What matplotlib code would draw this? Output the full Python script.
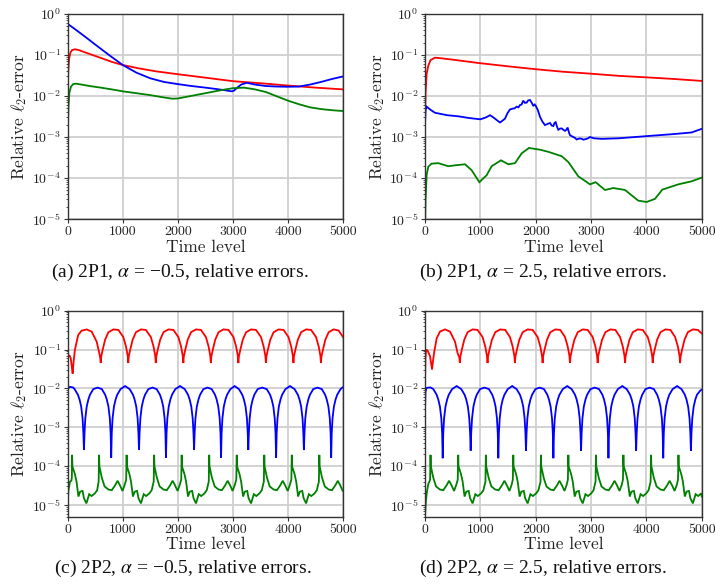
import matplotlib
matplotlib.use("Agg")
import matplotlib.pyplot as plt
from matplotlib.ticker import LogLocator, NullFormatter

# ---------------- data (time level, relative error) ----------------
A_RED = [(0, 0.009), (10, 0.04), (25, 0.08), (50, 0.115), (80, 0.132), (130, 0.138), (200, 0.132),
         (300, 0.118), (450, 0.1), (600, 0.085), (800, 0.068), (1000, 0.057), (1300, 0.047),
         (1600, 0.04), (2000, 0.034), (2500, 0.028), (3000, 0.023), (3500, 0.0205), (4000, 0.018),
         (4500, 0.016), (5000, 0.0145)]
A_BLUE = [(0, 0.55), (10, 0.56), (100, 0.46), (300, 0.29), (500, 0.18), (750, 0.10), (1000, 0.057),
          (1250, 0.037), (1500, 0.027), (1750, 0.022), (2000, 0.0195), (2250, 0.0175), (2500, 0.016),
          (2750, 0.0145), (2980, 0.013), (3020, 0.0135), (3080, 0.016), (3150, 0.019), (3250, 0.021),
          (3400, 0.019), (3600, 0.0175), (3800, 0.017), (4000, 0.0168), (4200, 0.017), (4400, 0.019),
          (4600, 0.022), (4800, 0.026), (5000, 0.030)]
A_GREEN = [(0, 5e-4), (5, 2e-3), (15, 6e-3), (30, 1.2e-2), (60, 1.7e-2), (100, 1.95e-2), (150, 2.0e-2),
           (250, 1.9e-2), (400, 1.75e-2), (600, 1.6e-2), (800, 1.45e-2), (1000, 1.3e-2), (1250, 1.17e-2),
           (1500, 1.05e-2), (1750, 9.2e-3), (1900, 8.6e-3), (2000, 8.7e-3), (2200, 9.8e-3), (2500, 1.17e-2),
           (2800, 1.4e-2), (3000, 1.55e-2), (3200, 1.6e-2), (3400, 1.45e-2), (3600, 1.25e-2), (3800, 9.8e-3),
           (4000, 7.7e-3), (4200, 6.3e-3), (4400, 5.3e-3), (4600, 4.8e-3), (4800, 4.5e-3), (5000, 4.3e-3)]

B_RED = [(0, 0.002), (10, 0.012), (30, 0.035), (60, 0.055), (100, 0.075), (180, 0.086), (300, 0.083),
         (500, 0.077), (1000, 0.063), (1500, 0.053), (2000, 0.045), (2500, 0.039), (3000, 0.035),
         (3500, 0.031), (4000, 0.0285), (4500, 0.026), (5000, 0.0233)]
B_BLUE = [(0, 0.002), (10, 0.0045), (30, 0.0055), (100, 0.0046), (180, 0.0039), (400, 0.0034), (600, 0.0032),
          (800, 0.0029), (1000, 0.0027), (1100, 0.003), (1175, 0.0034), (1220, 0.0031), (1265, 0.0028),
          (1310, 0.0025), (1355, 0.00226), (1400, 0.0025), (1445, 0.0028), (1490, 0.0038), (1535, 0.0047),
          (1580, 0.0049), (1620, 0.005), (1655, 0.0055), (1690, 0.0053), (1715, 0.006), (1745, 0.0062),
          (1775, 0.0077), (1805, 0.0068), (1837, 0.0069), (1865, 0.0078), (1897, 0.008), (1930, 0.0068),
          (1957, 0.0057), (1980, 0.0062), (2000, 0.0058), (2040, 0.0045), (2078, 0.0031), (2120, 0.0024),
          (2168, 0.00195), (2220, 0.0021), (2259, 0.0022), (2290, 0.0019), (2319, 0.00185), (2340, 0.0022),
          (2361, 0.0023), (2385, 0.0018), (2409, 0.0015), (2440, 0.0016), (2470, 0.00162), (2500, 0.0015),
          (2530, 0.00141), (2555, 0.0015), (2578, 0.0017), (2600, 0.0013), (2620, 0.00111), (2650, 0.00105),
          (2680, 0.001), (2710, 0.00095), (2740, 0.00087), (2790, 0.00092), (2830, 0.00091), (2860, 0.00086),
          (2891, 0.00088), (2940, 0.00092), (2981, 0.001), (3050, 0.00093), (3192, 0.0009), (3500, 0.00093),
          (4005, 0.00105), (4500, 0.00118), (4818, 0.00129), (5000, 0.00158)]
B_GREEN = [(0, 5e-6), (10, 3e-5), (30, 1.2e-4), (60, 1.9e-4), (120, 2.24e-4), (240, 2.3e-4), (420, 1.94e-4),
           (560, 2.05e-4), (723, 2.16e-4), (843, 1.55e-4), (982, 7.9e-5), (1114, 1.17e-4), (1205, 1.94e-4),
           (1373, 2.7e-4), (1506, 2.16e-4), (1626, 2.3e-4), (1747, 4.0e-4), (1879, 5.4e-4), (2078, 4.9e-4),
           (2229, 4.35e-4), (2470, 3.4e-4), (2590, 2.45e-4), (2770, 1.1e-4), (2981, 7e-5), (3084, 7.9e-5),
           (3252, 5.1e-5), (3403, 5.7e-5), (3614, 5.1e-5), (3855, 2.8e-5), (4005, 2.6e-5), (4156, 3.1e-5),
           (4288, 5.2e-5), (4577, 7.0e-5), (4818, 8.3e-5), (5000, 1.02e-4)]

C_RED = [(0, .011), (5, .065), (30, .072), (55, .060), (75, .035), (90, .024), (105, .045), (130, .097),
         (190, .236), (250, .305), (345, .33), (435, .29), (526, .16), (575, .079), (590, .062), (600, .045),
         (608, .065), (636, .10), (680, .18), (740, .28), (830, .33), (920, .32), (1010, .21), (1060, .118), (1090, .068), (1100, .045),
         (1108, .065), (1136, .10), (1180, .18), (1240, .28), (1330, .33), (1420, .32), (1510, .21), (1560, .118), (1590, .068), (1600, .045),
         (1608, .065), (1636, .10), (1680, .18), (1740, .28), (1830, .33), (1920, .32), (2010, .21), (2060, .118), (2090, .068), (2100, .045),
         (2108, .065), (2136, .10), (2180, .18), (2240, .28), (2330, .33), (2420, .32), (2510, .21), (2560, .118), (2590, .068), (2600, .045),
         (2608, .065), (2636, .10), (2680, .18), (2740, .28), (2830, .33), (2920, .32), (3010, .21), (3060, .118), (3090, .068), (3100, .045),
         (3108, .065), (3136, .10), (3180, .18), (3240, .28), (3330, .33), (3420, .32), (3510, .21), (3560, .118), (3590, .068), (3600, .045),
         (3608, .065), (3636, .10), (3680, .18), (3740, .28), (3830, .33), (3920, .32), (4010, .21), (4060, .118), (4090, .068), (4100, .045),
         (4108, .065), (4136, .10), (4180, .18), (4240, .28), (4330, .33), (4420, .32), (4510, .21), (4560, .118), (4590, .068), (4600, .045),
         (4608, .065), (4636, .10), (4680, .18), (4740, .28), (4830, .33), (4920, .31), (5000, .21)]
C_BLUE = [(0, 3e-3), (5, 9.9e-3), (42, 1.1e-2), (102, 1.05e-2), (125, 9.6e-3), (185, 6.9e-3), (215, 5.2e-3),
          (245, 3.4e-3), (270, 1.7e-3), (285, 7e-4), (295, 2.6e-4),
          (305, 7e-4), (320, 1.7e-3), (345, 3.4e-3), (375, 5.2e-3), (405, 6.9e-3), (465, 9.6e-3), (542, 1.05e-2),
          (620, 9.6e-3), (680, 6.9e-3), (710, 5.2e-3), (740, 3.4e-3), (765, 1.7e-3), (780, 7e-4), (790, 1.65e-4),
          (800, 7e-4), (815, 1.7e-3), (840, 3.4e-3), (870, 5.2e-3), (900, 6.9e-3), (960, 9.6e-3), (1042, 1.15e-2),
          (1125, 9.6e-3), (1185, 6.9e-3), (1215, 5.2e-3), (1245, 3.4e-3), (1270, 1.7e-3), (1285, 7e-4), (1295, 2.6e-4),
          (1305, 7e-4), (1320, 1.7e-3), (1345, 3.4e-3), (1375, 5.2e-3), (1405, 6.9e-3), (1465, 9.6e-3), (1540, 1.05e-2),
          (1615, 9.6e-3), (1675, 6.9e-3), (1705, 5.2e-3), (1735, 3.4e-3), (1760, 1.7e-3), (1775, 7e-4), (1785, 1.65e-4),
          (1795, 7e-4), (1810, 1.7e-3), (1835, 3.4e-3), (1865, 5.2e-3), (1895, 6.9e-3), (1955, 9.6e-3), (2040, 1.15e-2),
          (2125, 9.6e-3), (2185, 6.9e-3), (2215, 5.2e-3), (2245, 3.4e-3), (2270, 1.7e-3), (2285, 7e-4), (2295, 2.6e-4),
          (2305, 7e-4), (2320, 1.7e-3), (2345, 3.4e-3), (2375, 5.2e-3), (2405, 6.9e-3), (2465, 9.6e-3), (2540, 1.05e-2),
          (2615, 9.6e-3), (2675, 6.9e-3), (2705, 5.2e-3), (2735, 3.4e-3), (2760, 1.7e-3), (2775, 7e-4), (2785, 1.65e-4),
          (2795, 7e-4), (2810, 1.7e-3), (2835, 3.4e-3), (2865, 5.2e-3), (2895, 6.9e-3), (2955, 9.6e-3), (3032, 1.15e-2),
          (3110, 9.6e-3), (3170, 6.9e-3), (3200, 5.2e-3), (3230, 3.4e-3), (3255, 1.7e-3), (3270, 7e-4), (3280, 2.6e-4),
          (3290, 7e-4), (3305, 1.7e-3), (3330, 3.4e-3), (3360, 5.2e-3), (3390, 6.9e-3), (3450, 9.6e-3), (3532, 1.05e-2),
          (3615, 9.6e-3), (3675, 6.9e-3), (3705, 5.2e-3), (3735, 3.4e-3), (3760, 1.7e-3), (3775, 7e-4), (3785, 1.65e-4),
          (3795, 7e-4), (3810, 1.7e-3), (3835, 3.4e-3), (3865, 5.2e-3), (3895, 6.9e-3), (3955, 9.6e-3), (4038, 1.15e-2),
          (4120, 9.6e-3), (4180, 6.9e-3), (4210, 5.2e-3), (4240, 3.4e-3), (4265, 1.7e-3), (4280, 7e-4), (4290, 2.6e-4),
          (4300, 7e-4), (4315, 1.7e-3), (4340, 3.4e-3), (4370, 5.2e-3), (4400, 6.9e-3), (4460, 9.6e-3), (4538, 1.05e-2),
          (4615, 9.6e-3), (4675, 6.9e-3), (4705, 5.2e-3), (4735, 3.4e-3), (4760, 1.7e-3), (4775, 7e-4), (4785, 1.65e-4),
          (4795, 7e-4), (4810, 1.7e-3), (4835, 3.4e-3), (4865, 5.2e-3), (4895, 6.9e-3), (4955, 9.6e-3), (5000, 1.08e-2)]
C_GREEN = [(0, 1e-5), (12, 2.3e-5), (42, 4e-5), (66, 4.2e-5), (75, 5e-5), (80, 1.95e-4),
           (85, 1e-4), (100, 8.5e-5), (130, 6.3e-5), (160, 4e-5), (195, 1.65e-5), (225, 2.2e-5), (270, 2.3e-5), (295, 1.5e-5),
           (340, 1.1e-5), (390, 1.9e-5), (435, 1.7e-5), (495, 2.0e-5), (535, 2.4e-5), (562, 4e-5), (570, 1.95e-4),
           (575, 1e-4), (590, 8e-5), (620, 5e-5), (670, 3e-5), (740, 2.5e-5), (800, 2.4e-5), (860, 3.2e-5), (905, 4.2e-5),
           (950, 3.2e-5), (995, 2.3e-5), (1035, 3.3e-5), (1062, 4.5e-5), (1070, 1.95e-4),
           (1075, 1e-4), (1090, 8.5e-5), (1120, 6.3e-5), (1150, 4e-5), (1185, 1.65e-5), (1215, 2.2e-5), (1260, 2.3e-5), (1285, 1.5e-5),
           (1330, 1.1e-5), (1380, 1.9e-5), (1425, 1.7e-5), (1485, 2.0e-5), (1525, 2.4e-5), (1562, 4e-5), (1570, 1.95e-4),
           (1575, 1e-4), (1590, 8e-5), (1620, 5e-5), (1670, 3e-5), (1740, 2.5e-5), (1800, 2.4e-5), (1860, 3.2e-5), (1905, 4.2e-5),
           (1950, 3.2e-5), (1995, 2.3e-5), (2035, 3.3e-5), (2062, 4.5e-5), (2070, 1.95e-4),
           (2075, 1e-4), (2090, 8.5e-5), (2120, 6.3e-5), (2150, 4e-5), (2185, 1.65e-5), (2215, 2.2e-5), (2260, 2.3e-5), (2285, 1.5e-5),
           (2330, 1.1e-5), (2380, 1.9e-5), (2425, 1.7e-5), (2485, 2.0e-5), (2525, 2.4e-5), (2562, 4e-5), (2570, 1.95e-4),
           (2575, 1e-4), (2590, 8e-5), (2620, 5e-5), (2670, 3e-5), (2740, 2.5e-5), (2800, 2.4e-5), (2860, 3.2e-5), (2905, 4.2e-5),
           (2950, 3.2e-5), (2995, 2.3e-5), (3035, 3.3e-5), (3062, 4.5e-5), (3070, 1.95e-4),
           (3075, 1e-4), (3090, 8.5e-5), (3120, 6.3e-5), (3150, 4e-5), (3185, 1.65e-5), (3215, 2.2e-5), (3260, 2.3e-5), (3285, 1.5e-5),
           (3330, 1.1e-5), (3380, 1.9e-5), (3425, 1.7e-5), (3485, 2.0e-5), (3525, 2.4e-5), (3562, 4e-5), (3570, 1.95e-4),
           (3575, 1e-4), (3590, 8e-5), (3620, 5e-5), (3670, 3e-5), (3740, 2.5e-5), (3800, 2.4e-5), (3860, 3.2e-5), (3905, 4.2e-5),
           (3950, 3.2e-5), (3995, 2.3e-5), (4035, 3.3e-5), (4062, 4.5e-5), (4070, 1.95e-4),
           (4075, 1e-4), (4090, 8.5e-5), (4120, 6.3e-5), (4150, 4e-5), (4185, 1.65e-5), (4215, 2.2e-5), (4260, 2.3e-5), (4285, 1.5e-5),
           (4330, 1.1e-5), (4380, 1.9e-5), (4425, 1.7e-5), (4485, 2.0e-5), (4525, 2.4e-5), (4562, 4e-5), (4570, 1.95e-4),
           (4575, 1e-4), (4590, 8e-5), (4620, 5e-5), (4670, 3e-5), (4740, 2.5e-5), (4800, 2.4e-5), (4860, 3.2e-5), (4905, 4.2e-5),
           (4950, 3.2e-5), (4995, 2.3e-5), (5000, 2.3e-5)]

D_RED = [(0, .014), (8, .06), (20, .098), (45, .095), (90, .068), (115, .04), (127, .031), (140, .045), (163, .08),
         (211, .195), (271, .29), (361, .33), (452, .29), (542, .16), (590, .08), (620, .062), (630, .045),
         (638, .065), (666, .10), (710, .18), (770, .28), (860, .33), (950, .32), (1040, .21), (1090, .118), (1120, .068), (1130, .045),
         (1138, .065), (1166, .10), (1210, .18), (1270, .28), (1360, .33), (1450, .32), (1535, .21), (1585, .118), (1615, .068), (1625, .045),
         (1633, .065), (1661, .10), (1705, .18), (1765, .28), (1855, .33), (1945, .32), (2035, .21), (2085, .118), (2115, .068), (2125, .045),
         (2133, .065), (2161, .10), (2205, .18), (2265, .28), (2355, .33), (2445, .32), (2530, .21), (2580, .118), (2610, .068), (2620, .045),
         (2628, .065), (2656, .10), (2700, .18), (2760, .28), (2850, .33), (2940, .32), (3030, .21), (3080, .118), (3110, .068), (3120, .045),
         (3128, .065), (3156, .10), (3200, .18), (3260, .28), (3350, .33), (3440, .32), (3525, .21), (3575, .118), (3605, .068), (3615, .045),
         (3623, .065), (3651, .10), (3695, .18), (3755, .28), (3845, .33), (3935, .32), (4025, .21), (4075, .118), (4105, .068), (4115, .045),
         (4123, .065), (4151, .10), (4195, .18), (4255, .28), (4345, .33), (4435, .32), (4520, .21), (4570, .118), (4600, .068), (4610, .045),
         (4618, .065), (4646, .10), (4690, .18), (4750, .28), (4840, .33), (4930, .32), (5000, .26)]
D_BLUE = [(0, 2.5e-3), (8, 8e-3), (25, 1.02e-2), (60, 1.05e-2), (100, 1.06e-2), (150, 9.6e-3), (210, 6.9e-3),
          (240, 5.2e-3), (270, 3.4e-3), (295, 1.7e-3), (310, 7e-4), (320, 1.6e-4),
          (330, 7e-4), (345, 1.7e-3), (370, 3.4e-3), (400, 5.2e-3), (430, 6.9e-3), (490, 9.6e-3), (572, 1.15e-2),
          (655, 9.6e-3), (715, 6.9e-3), (745, 5.2e-3), (775, 3.4e-3), (800, 1.7e-3), (815, 7e-4), (825, 2.5e-4),
          (835, 7e-4), (850, 1.7e-3), (875, 3.4e-3), (905, 5.2e-3), (935, 6.9e-3), (995, 9.6e-3), (1075, 1.05e-2),
          (1155, 9.6e-3), (1215, 6.9e-3), (1245, 5.2e-3), (1275, 3.4e-3), (1300, 1.7e-3), (1315, 7e-4), (1325, 1.6e-4),
          (1335, 7e-4), (1350, 1.7e-3), (1375, 3.4e-3), (1405, 5.2e-3), (1435, 6.9e-3), (1495, 9.6e-3), (1575, 1.15e-2),
          (1655, 9.6e-3), (1715, 6.9e-3), (1745, 5.2e-3), (1775, 3.4e-3), (1800, 1.7e-3), (1815, 7e-4), (1825, 2.5e-4),
          (1835, 7e-4), (1850, 1.7e-3), (1875, 3.4e-3), (1905, 5.2e-3), (1935, 6.9e-3), (1995, 9.6e-3), (2072, 1.05e-2),
          (2150, 9.6e-3), (2210, 6.9e-3), (2240, 5.2e-3), (2270, 3.4e-3), (2295, 1.7e-3), (2310, 7e-4), (2320, 1.6e-4),
          (2330, 7e-4), (2345, 1.7e-3), (2370, 3.4e-3), (2400, 5.2e-3), (2430, 6.9e-3), (2490, 9.6e-3), (2570, 1.15e-2),
          (2650, 9.6e-3), (2710, 6.9e-3), (2740, 5.2e-3), (2770, 3.4e-3), (2795, 1.7e-3), (2810, 7e-4), (2820, 2.5e-4),
          (2830, 7e-4), (2845, 1.7e-3), (2870, 3.4e-3), (2900, 5.2e-3), (2930, 6.9e-3), (2990, 9.6e-3), (3068, 1.05e-2),
          (3145, 9.6e-3), (3205, 6.9e-3), (3235, 5.2e-3), (3265, 3.4e-3), (3290, 1.7e-3), (3305, 7e-4), (3315, 1.6e-4),
          (3325, 7e-4), (3340, 1.7e-3), (3365, 3.4e-3), (3395, 5.2e-3), (3425, 6.9e-3), (3485, 9.6e-3), (3565, 1.15e-2),
          (3645, 9.6e-3), (3705, 6.9e-3), (3735, 5.2e-3), (3765, 3.4e-3), (3790, 1.7e-3), (3805, 7e-4), (3815, 2.5e-4),
          (3825, 7e-4), (3840, 1.7e-3), (3865, 3.4e-3), (3895, 5.2e-3), (3925, 6.9e-3), (3985, 9.6e-3), (4060, 1.05e-2),
          (4135, 9.6e-3), (4195, 6.9e-3), (4225, 5.2e-3), (4255, 3.4e-3), (4280, 1.7e-3), (4295, 7e-4), (4305, 1.6e-4),
          (4315, 7e-4), (4330, 1.7e-3), (4355, 3.4e-3), (4385, 5.2e-3), (4415, 6.9e-3), (4475, 9.6e-3), (4555, 1.15e-2),
          (4635, 9.6e-3), (4695, 6.9e-3), (4725, 5.2e-3), (4755, 3.4e-3), (4780, 1.7e-3), (4795, 7e-4), (4805, 2.5e-4),
          (4815, 7e-4), (4830, 1.7e-3), (4855, 3.4e-3), (4885, 5.2e-3), (4915, 6.9e-3), (4975, 8.8e-3), (5000, 9.3e-3)]
D_GREEN = [(0, 5e-6), (15, 1.2e-5), (35, 2.2e-5), (60, 3.5e-5), (80, 4e-5), (92, 4.5e-5), (100, 1.95e-4),
           (105, 1e-4), (120, 8e-5), (150, 5e-5), (200, 3e-5), (270, 2.5e-5), (330, 2.4e-5), (390, 3.2e-5), (435, 4.2e-5),
           (480, 3.2e-5), (525, 2.3e-5), (565, 3.3e-5), (592, 4.5e-5), (600, 1.95e-4),
           (605, 1e-4), (620, 8.5e-5), (650, 6.3e-5), (680, 4e-5), (715, 1.65e-5), (745, 2.2e-5), (790, 2.3e-5), (815, 1.5e-5),
           (860, 1.1e-5), (910, 1.9e-5), (955, 1.7e-5), (1015, 2.0e-5), (1055, 2.4e-5), (1092, 4e-5), (1100, 1.95e-4),
           (1105, 1e-4), (1120, 8e-5), (1150, 5e-5), (1200, 3e-5), (1270, 2.5e-5), (1330, 2.4e-5), (1390, 3.2e-5), (1435, 4.2e-5),
           (1480, 3.2e-5), (1525, 2.3e-5), (1565, 3.3e-5), (1587, 4.5e-5), (1595, 1.95e-4),
           (1600, 1e-4), (1615, 8.5e-5), (1645, 6.3e-5), (1675, 4e-5), (1710, 1.65e-5), (1740, 2.2e-5), (1785, 2.3e-5), (1810, 1.5e-5),
           (1855, 1.1e-5), (1905, 1.9e-5), (1950, 1.7e-5), (2010, 2.0e-5), (2050, 2.4e-5), (2087, 4e-5), (2095, 1.95e-4),
           (2100, 1e-4), (2115, 8e-5), (2145, 5e-5), (2195, 3e-5), (2265, 2.5e-5), (2325, 2.4e-5), (2385, 3.2e-5), (2430, 4.2e-5),
           (2475, 3.2e-5), (2520, 2.3e-5), (2560, 3.3e-5), (2582, 4.5e-5), (2590, 1.95e-4),
           (2595, 1e-4), (2610, 8.5e-5), (2640, 6.3e-5), (2670, 4e-5), (2705, 1.65e-5), (2735, 2.2e-5), (2780, 2.3e-5), (2805, 1.5e-5),
           (2850, 1.1e-5), (2900, 1.9e-5), (2945, 1.7e-5), (3005, 2.0e-5), (3045, 2.4e-5), (3082, 4e-5), (3090, 1.95e-4),
           (3095, 1e-4), (3110, 8e-5), (3140, 5e-5), (3190, 3e-5), (3260, 2.5e-5), (3320, 2.4e-5), (3380, 3.2e-5), (3425, 4.2e-5),
           (3470, 3.2e-5), (3515, 2.3e-5), (3555, 3.3e-5), (3577, 4.5e-5), (3585, 1.95e-4),
           (3590, 1e-4), (3605, 8.5e-5), (3635, 6.3e-5), (3665, 4e-5), (3700, 1.65e-5), (3730, 2.2e-5), (3775, 2.3e-5), (3800, 1.5e-5),
           (3845, 1.1e-5), (3895, 1.9e-5), (3940, 1.7e-5), (4000, 2.0e-5), (4040, 2.4e-5), (4077, 4e-5), (4085, 1.95e-4),
           (4090, 1e-4), (4105, 8e-5), (4135, 5e-5), (4185, 3e-5), (4255, 2.5e-5), (4315, 2.4e-5), (4375, 3.2e-5), (4420, 4.2e-5),
           (4465, 3.2e-5), (4510, 2.3e-5), (4550, 3.3e-5), (4572, 4.5e-5), (4580, 1.95e-4),
           (4585, 1e-4), (4600, 8.5e-5), (4630, 6.3e-5), (4660, 4e-5), (4695, 1.65e-5), (4725, 2.2e-5), (4770, 2.3e-5), (4795, 1.5e-5),
           (4840, 1.1e-5), (4890, 1.9e-5), (4935, 1.7e-5), (4995, 2.0e-5), (5000, 1.65e-5)]

X_TICKS = [0, 1000, 2000, 3000, 4000, 5000]
Y_TICKS = [1e-5, 1e-4, 1e-3, 1e-2, 1e-1, 1e0]
Y_TICK_LABELS = [r"$10^{-5}$", r"$10^{-4}$", r"$10^{-3}$", r"$10^{-2}$", r"$10^{-1}$", r"$10^{0}$"]
CAPTIONS = ["(a) 2P1, $\\alpha$ = \u22120.5, relative errors.",
            "(b) 2P1, $\\alpha$ = 2.5, relative errors.",
            "(c) 2P2, $\\alpha$ = \u22120.5, relative errors.",
            "(d) 2P2, $\\alpha$ = 2.5, relative errors."]
PANELS = [(A_RED, A_BLUE, A_GREEN), (B_RED, B_BLUE, B_GREEN),
          (C_RED, C_BLUE, C_GREEN), (D_RED, D_BLUE, D_GREEN)]
YLIMS = [(1e-5, 1.0), (1e-5, 1.0), (5e-6, 1.0), (5e-6, 1.0)]

# ---------------- styling ----------------
plt.rcParams["mathtext.fontset"] = "cm"
plt.rcParams["font.family"] = ["cmr10", "DejaVu Serif"]
plt.rcParams["axes.unicode_minus"] = False

W, H = 715, 584
fig = plt.figure(figsize=(W / 100, H / 100), dpi=100)

def rect(l, t, r, b):
    return [l / W, 1 - b / H, (r - l) / W, (b - t) / H]

RECTS = [rect(67.7, 14, 343, 219), rect(425, 14, 701.7, 219),
         rect(67.7, 310.7, 343, 516.7), rect(425, 310.7, 701.7, 516.7)]
CAP_POS = [(180, 272), (543, 272), (183, 568), (543, 568)]
COLORS = ["#ff0000", "#0000ff", "#008000"]

for i, (series, r, ylim) in enumerate(zip(PANELS, RECTS, YLIMS)):
    ax = fig.add_axes(r)
    for data, col in zip(series, COLORS):
        t = [p[0] for p in data]
        v = [p[1] for p in data]
        ax.plot(t, v, color=col, lw=1.3, solid_joinstyle="miter")
    ax.set_yscale("log")
    ax.set_xlim(0, 5000)
    ax.set_ylim(*ylim)
    ax.set_xticks(X_TICKS)
    ax.set_yticks(Y_TICKS)
    ax.set_yticklabels(Y_TICK_LABELS)
    ax.yaxis.set_minor_locator(LogLocator(base=10, subs=range(2, 10), numticks=20))
    ax.yaxis.set_minor_formatter(NullFormatter())
    ax.set_axisbelow(True)
    ax.grid(True, which="major", color="#cfcfcf", lw=1.3)
    for s in ax.spines.values():
        s.set_color("#333333")
        s.set_linewidth(1.0)
    ax.tick_params(which="major", direction="out", length=3, width=0.8, colors="#333333",
                   labelcolor="#222222", labelsize=10, pad=2)
    ax.tick_params(which="minor", direction="out", length=1.8, width=0.6, colors="#333333")
    ax.set_xlabel("Time level", fontsize=12.5, labelpad=1, color="#222222")
    ax.set_ylabel(r"Relative $\ell_2$-error", fontsize=12.5, labelpad=2, color="#222222")
    cx, cy = CAP_POS[i]
    fig.text(cx / W, 1 - cy / H, CAPTIONS[i], ha="center", va="center", fontsize=14,
             family=["Liberation Serif", "DejaVu Serif"], math_fontfamily="stix", color="#111111")

fig.savefig("out.png", dpi=100)
